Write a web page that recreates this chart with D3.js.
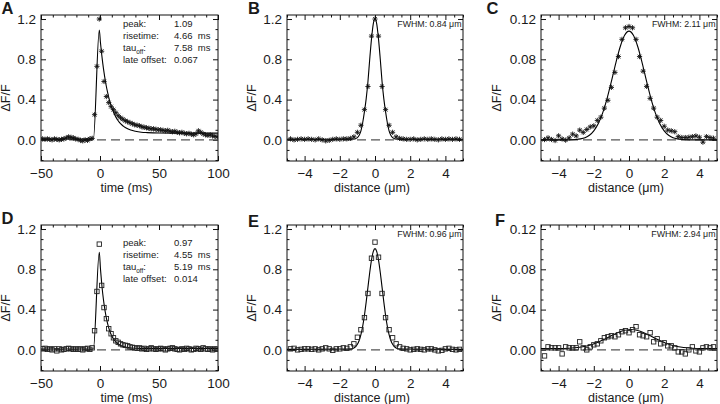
<!DOCTYPE html>
<html><head><meta charset="utf-8">
<script src="https://cdn.jsdelivr.net/npm/d3@7"></script>
<style>
body{margin:0;background:#fff}
svg{display:block}
text{font-family:"Liberation Sans",Arial,Helvetica,sans-serif;fill:#1a1a1a}
</style>
</head><body>
<svg id="chart" width="720" height="404"></svg>
<script>
// ---------- sampling grids ----------
const timeGrid = d3.range(75).map(i => -48.6 + 2 * i);       // ms
const distGrid = d3.range(-24, 25).map(k => 0.2 * k);         // µm

// ---------- measured data ----------
const traceA = [0.01,0.005,0.01,0.005,0.0,0.01,0.005,0.0,0.005,0.01,0.02,0.03,0.025,0.02,0.01,0.005,-0.005,-0.01,0.0,-0.005,0.01,
  0.015,0.25,0.73,1.20,0.88,0.58,0.43,0.37,0.33,0.30,0.27,0.24,0.22,0.205,0.19,0.18,0.17,0.16,0.15,0.145,0.14,0.13,0.125,0.12,
  0.115,0.11,0.11,0.105,0.10,0.10,0.095,0.09,0.095,0.085,0.08,0.085,0.075,0.07,0.075,0.065,0.06,0.065,0.055,0.05,0.06,0.09,
  0.075,0.06,0.05,0.045,0.05,0.04,0.035,0.03];
const traceD = [0.01,0.015,0.005,0.01,0.0,0.01,-0.01,0.01,0.0,0.005,0.01,0.015,0.01,0.005,0.01,0.005,0.01,0.0,0.01,0.015,0.005,
  0.02,0.19,0.58,1.05,0.64,0.42,0.31,0.21,0.16,0.12,0.09,0.075,0.06,0.05,0.045,0.04,0.03,0.025,0.02,
  0.015,0.02,0.01,0.015,0.005,0.01,0.02,0.01,0.005,0.01,0.015,0.01,0.0,0.01,0.015,0.02,0.01,0.005,0.0,0.01,0.005,0.015,0.01,
  0.0,0.005,0.015,0.01,0.005,0.02,0.01,0.005,0.01,0.0,0.01,0.005];
const profileB = [0.01,0.0,0.005,0.01,0.005,0.01,0.005,0.0,0.01,0.0,-0.01,-0.005,0.005,0.01,0.005,0.01,0.01,
  0.015,0.03,0.075,0.145,0.30,0.53,1.03,1.2,1.03,0.53,0.30,0.145,0.075,0.03,0.015,
  0.01,0.005,0.005,0.01,0.0,0.005,0.01,0.005,0.01,0.005,0.0,0.01,0.005,0.01,0.005,0.01,0.005];
const profileC = [0.0003,0.002,0.0004,-0.0007,0.004,0.0009,-0.0003,0.002,0.0057,0.0039,0.0097,0.0074,0.0103,0.0129,0.0139,
  0.0193,0.0225,0.0315,0.0393,0.0521,0.067,0.0827,0.0998,0.1113,0.1126,0.1113,0.0998,0.0827,0.0682,0.0531,0.0412,0.0315,
  0.0225,0.0193,0.0135,0.0097,0.009,0.0081,0.0032,0.0023,0.0023,0.0026,0.0032,0.0039,0.0026,-0.0023,0.0032,0.0023,0.0016];
const profileE = [0.01,0.015,0.0,0.005,0.01,0.01,0.005,0.01,0.0,0.01,0.02,0.01,-0.005,0.01,0.01,0.02,
  0.015,0.03,0.06,0.125,0.2,0.32,0.56,0.91,1.07,0.92,0.56,0.32,0.2,0.12,0.06,0.03,0.015,
  0.01,0.0,0.005,0.01,0.005,0.0,0.01,0.01,0.0,-0.01,-0.005,0.01,0.015,0.005,0.0,0.005];
const profileF = [-0.006,0.003,0.002,0.002,0.002,-0.004,0.003,0.002,0.002,0.002,0.008,0.002,0.0,0.003,0.005,0.006,0.009,0.012,
  0.013,0.014,0.013,0.015,0.018,0.019,0.017,0.02,0.023,0.015,0.014,0.013,0.017,0.008,0.011,0.006,0.007,0.004,0.004,0.002,
  -0.002,-0.002,-0.004,0.0,0.003,-0.001,-0.002,0.002,0.003,0.002,0.003];

// ---------- fitted curves ----------
const fitA_x = [-50,-5.6,-0.6,0.4,1.4,2.4,3.4,4.4,5.4,6.4,7.4,9.4,11.4,13.4,15.4,17.4,20,23,26,30,35,40,50,70,100];
const fitA_y = [0.008,0.008,1.09,0.964,0.853,0.755,0.67,0.596,0.53,0.473,0.423,0.34,0.277,0.228,0.19,0.16,0.134,0.112,0.097,0.085,0.076,0.072,0.068,0.067,0.067];
const fitD_x = [-50,-5.6,-0.6,0.4,1.4,2.4,3.4,5.4,7.4,9.4,11.4,14.4,17.4,21.4,26.4,34.4,100];
const fitD_y = [0.008,0.008,0.97,0.803,0.664,0.55,0.457,0.315,0.219,0.153,0.109,0.067,0.044,0.028,0.019,0.015,0.014];
const fitBE_x = [-5,-1.4,-1.2,-1.1,-1.0,-0.9,-0.8,-0.7,-0.6,-0.5,-0.4,-0.3,-0.2,-0.1,0,0.1,0.2,0.3,0.4,0.5,0.6,0.7,0.8,0.9,1.0,1.1,1.2,1.4,5];
const fitB_y = [0.006,0.006,0.008,0.012,0.022,0.045,0.09,0.17,0.28,0.41,0.58,0.80,1.0,1.15,1.2,1.15,1.0,0.80,0.58,0.41,0.28,0.17,0.09,0.045,0.022,0.012,0.008,0.006,0.006];
const fitE_y = [0.005,0.008,0.018,0.031,0.055,0.093,0.151,0.234,0.344,0.477,0.623,0.768,0.891,0.975,1.005,0.975,0.891,0.768,0.623,0.477,0.344,0.234,0.151,0.093,0.055,0.031,0.018,0.008,0.005];
const fitC_x = [-5,-3.5,-3.0,-2.75,-2.5,-2.25,-2.0,-1.75,-1.5,-1.25,-1.0,-0.75,-0.5,-0.25,0,0.25,0.5,0.75,1.0,1.25,1.5,1.75,2.0,2.25,2.5,2.75,3.0,3.5,5];
const fitC_y = [0,0,0.0004,0.001,0.0022,0.0046,0.009,0.0161,0.0266,0.0408,0.058,0.0762,0.0925,0.1039,0.108,0.1039,0.0925,0.0762,0.058,0.0408,0.0266,0.0161,0.009,0.0046,0.0022,0.001,0.0004,0,0];
const fitF_x = [-5,-4,-3.4,-2.9,-2.4,-1.9,-1.4,-0.9,-0.4,0.1,0.6,1.1,1.6,2.1,2.6,3.1,3.6,4.1,5];
const fitF_y = [0.0012,0.0013,0.0016,0.0023,0.0038,0.0065,0.0105,0.015,0.0187,0.0202,0.0187,0.015,0.0105,0.0065,0.0038,0.0023,0.0016,0.0013,0.0012];

// ---------- ticks & labels ----------
const timeTicks = [-50, 0, 50, 100];
const distTicks = [-4, -2, 0, 2, 4];
const bigYTicks = [0, 0.4, 0.8, 1.2];
const smallYTicks = [0, 0.04, 0.08, 0.12];
const annLabelsA = ["peak:", "risetime:", "tau", "late offset:"];
const annValuesA = ["1.09", "4.66  ms", "7.58  ms", "0.067"];
const annValuesD = ["0.97", "4.55  ms", "5.19  ms", "0.014"];
const fwhmLabels = {B: "FWHM: 0.84 \u03bcm", C: "FWHM: 2.11 \u03bcm", E: "FWHM: 0.96 \u03bcm", F: "FWHM: 2.94 \u03bcm"};

// ---------- layout ----------
const cols = [{x0: 41, x1: 218}, {x0: 287, x1: 463}, {x0: 541, x1: 717}];
const rows = [{y0: 15, y1: 161}, {y0: 225, y1: 371}];
const letterPos = {A: [1.5, 13.5], B: [248, 13.5], C: [486.5, 14], D: [1.5, 223.5], E: [248, 227], F: [495, 226]};

const panels = [
  {id: "A", col: 0, row: 0, kind: "time", xs: timeGrid, ys: traceA, fx: fitA_x, fy: fitA_y, mark: "star", small: false, ann: annValuesA, annTop: 24},
  {id: "B", col: 1, row: 0, kind: "dist", xs: distGrid, ys: profileB, fx: fitBE_x, fy: fitB_y, mark: "star", small: false},
  {id: "C", col: 2, row: 0, kind: "dist", xs: distGrid, ys: profileC, fx: fitC_x, fy: fitC_y, mark: "star", small: true},
  {id: "D", col: 0, row: 1, kind: "time", xs: timeGrid, ys: traceD, fx: fitD_x, fy: fitD_y, mark: "square", small: false, ann: annValuesD, annTop: 243},
  {id: "E", col: 1, row: 1, kind: "dist", xs: distGrid, ys: profileE, fx: fitBE_x, fy: fitE_y, mark: "square", small: false},
  {id: "F", col: 2, row: 1, kind: "dist", xs: distGrid, ys: profileF, fx: fitF_x, fy: fitF_y, mark: "square", small: true}
];

const svg = d3.select("#chart");
const starPath = "M-2.6,0H2.6M0,-2.6V2.6M-1.9,-1.9L1.9,1.9M-1.9,1.9L1.9,-1.9";

panels.forEach(p => {
  const c = cols[p.col], r = rows[p.row];
  const xDom = p.kind === "time" ? [-50, 100] : [-5, 5];
  const yDom = p.small ? [-0.021, 0.124] : [-0.21, 1.24];
  const x = d3.scaleLinear().domain(xDom).range([c.x0, c.x1]);
  const y = d3.scaleLinear().domain(yDom).range([r.y1, r.y0]);
  const g = svg.append("g");

  const clipId = "clip" + p.id;
  svg.append("clipPath").attr("id", clipId).append("rect")
    .attr("x", c.x0).attr("y", r.y0).attr("width", c.x1 - c.x0).attr("height", r.y1 - r.y0);

  // axes ticks
  const xMajor = p.kind === "time" ? timeTicks : distTicks;
  const xMinorStep = p.kind === "time" ? 10 : 0.5;
  const xMinor = d3.range(xDom[0], xDom[1] + 1e-9, xMinorStep).filter(v => !xMajor.some(m => Math.abs(m - v) < 1e-9));
  const yMajor = p.small ? smallYTicks : bigYTicks;
  const yMinorStep = p.small ? 0.01 : 0.1;
  const yMinor = d3.range(-2, 13).map(i => i * yMinorStep).filter(v => v >= yDom[0] && v <= yDom[1] && !yMajor.some(m => Math.abs(m - v) < 1e-9));
  const yFmt = p.small ? d3.format(".2f") : d3.format(".1f");
  const xFmt = d3.format("d");

  function styleAxis(sel) {
    sel.select(".domain").remove();
    sel.selectAll(".tick line").attr("stroke", "#111").attr("stroke-width", 1);
    sel.selectAll(".tick text").attr("font-size", 13.5).attr("font-family", '"Liberation Sans",Arial,sans-serif').attr("fill", "#1a1a1a");
  }
  const gl = g.append("g").attr("transform", `translate(${c.x0},0)`)
    .call(d3.axisLeft(y).tickValues(yMajor).tickSize(-5).tickPadding(5).tickFormat(yFmt)).call(styleAxis);
  g.append("g").attr("transform", `translate(${c.x0},0)`)
    .call(d3.axisLeft(y).tickValues(yMinor).tickSize(-2.5).tickFormat("")).call(styleAxis);
  g.append("g").attr("transform", `translate(${c.x1},0)`)
    .call(d3.axisRight(y).tickValues(yMajor).tickSize(-5).tickFormat("")).call(styleAxis);
  g.append("g").attr("transform", `translate(${c.x1},0)`)
    .call(d3.axisRight(y).tickValues(yMinor).tickSize(-2.5).tickFormat("")).call(styleAxis);
  g.append("g").attr("transform", `translate(0,${r.y1})`)
    .call(d3.axisBottom(x).tickValues(xMajor).tickSize(-5).tickPadding(7).tickFormat(xFmt)).call(styleAxis);
  g.append("g").attr("transform", `translate(0,${r.y1})`)
    .call(d3.axisBottom(x).tickValues(xMinor).tickSize(-2.5).tickFormat("")).call(styleAxis);
  g.append("g").attr("transform", `translate(0,${r.y0})`)
    .call(d3.axisTop(x).tickValues(xMajor).tickSize(-5).tickFormat("")).call(styleAxis);
  g.append("g").attr("transform", `translate(0,${r.y0})`)
    .call(d3.axisTop(x).tickValues(xMinor).tickSize(-2.5).tickFormat("")).call(styleAxis);

  // frame
  g.append("rect").attr("x", c.x0).attr("y", r.y0).attr("width", c.x1 - c.x0).attr("height", r.y1 - r.y0)
    .attr("fill", "none").attr("stroke", "#111").attr("stroke-width", 1);

  const inner = g.append("g").attr("clip-path", `url(#${clipId})`);
  // zero dashed line
  inner.append("line").attr("x1", c.x0).attr("x2", c.x1).attr("y1", y(0)).attr("y2", y(0))
    .attr("stroke", "#555").attr("stroke-width", 1.2).attr("stroke-dasharray", "9,5");
  // fit curve
  const fitPts = p.fx.map((v, i) => [v, p.fy[i]]);
  inner.append("path").datum(fitPts)
    .attr("d", d3.line().x(d => x(d[0])).y(d => y(d[1])).curve(d3.curveMonotoneX))
    .attr("fill", "none").attr("stroke", "#000").attr("stroke-width", 1.1);
  // markers
  const pts = p.xs.map((v, i) => [v, p.ys[i]]);
  if (p.mark === "star") {
    inner.selectAll("path.m").data(pts).join("path").attr("class", "m")
      .attr("transform", d => `translate(${x(d[0])},${y(d[1])})`)
      .attr("d", starPath).attr("stroke", "#111").attr("stroke-width", 0.9).attr("fill", "none");
  } else {
    inner.selectAll("rect.m").data(pts).join("rect").attr("class", "m")
      .attr("x", d => x(d[0]) - 2.2).attr("y", d => y(d[1]) - 2.2).attr("width", 4.4).attr("height", 4.4)
      .attr("stroke", "#222").attr("stroke-width", 0.9).attr("fill", "none");
  }

  // axis titles
  const xc = (c.x0 + c.x1) / 2 - 3;
  g.append("text").attr("x", xc).attr("y", r.y1 + 31).attr("text-anchor", "middle").attr("font-size", 12.5)
    .text(p.kind === "time" ? "time (ms)" : "distance (\u03bcm)");
  const yc = (r.y0 + r.y1) / 2 + 10;
  const ytx = c.x0 - (p.small ? 40 : 31);
  g.append("text").attr("transform", `translate(${ytx},${yc}) rotate(-90)`).attr("text-anchor", "middle")
    .attr("font-size", 12.5).text("\u0394F/F");

  // panel letter
  svg.append("text").attr("x", letterPos[p.id][0]).attr("y", letterPos[p.id][1])
    .attr("font-size", 16.5).attr("font-weight", "bold").attr("fill", "#000").text(p.id);

  // annotations
  if (p.ann) {
    annLabelsA.forEach((lab, i) => {
      const yy = p.annTop + i * 12 + 3.3;
      const t = g.append("text").attr("x", 123).attr("y", yy).attr("font-size", 9.5);
      if (lab === "tau") {
        t.text("tau");
        t.append("tspan").attr("font-size", 6.5).attr("dy", 2.5).text("off");
        t.append("tspan").attr("dy", -2.5).text(":");
      } else t.text(lab);
      g.append("text").attr("x", 174).attr("y", yy).attr("font-size", 9.5).attr("xml:space", "preserve").text(p.ann[i]);
    });
  }
  if (fwhmLabels[p.id]) {
    g.append("text").attr("x", c.x1 - 1.5).attr("y", r.y0 + 12).attr("text-anchor", "end")
      .attr("font-size", 8.8).text(fwhmLabels[p.id]);
  }
});
</script>
</body></html>
